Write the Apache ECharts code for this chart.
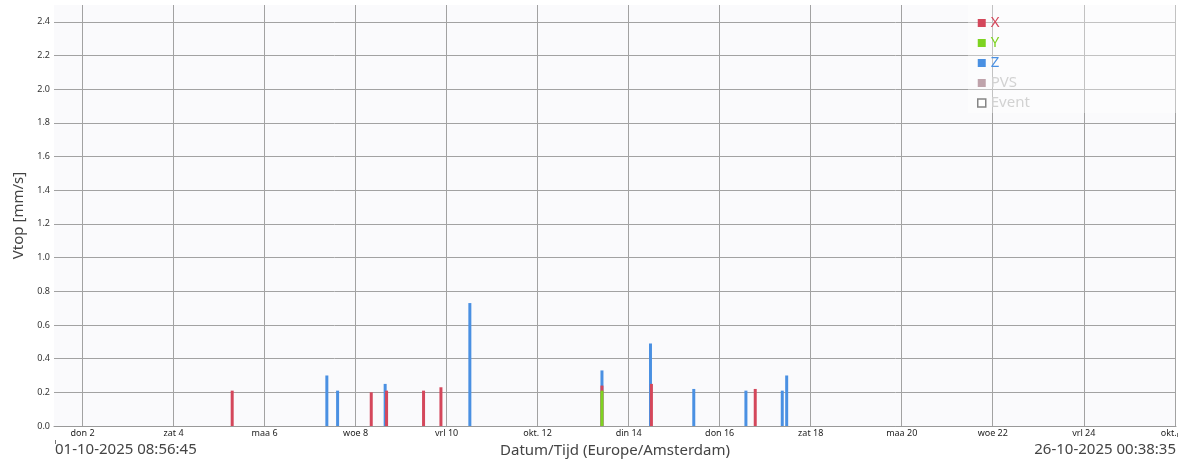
<!DOCTYPE html>
<html>
<head>
<meta charset="utf-8">
<script src="https://cdn.jsdelivr.net/npm/echarts@6/dist/echarts.min.js"></script>
<style>
  html, body { margin: 0; padding: 0; background: #fff; }
  #chart { width: 1186px; height: 461px; }
</style>
</head>
<body>
<div id="chart"></div>
<script>
// Vibration peaks (Vtop) per axis, October 2025
const rangeStart = '2025-10-01 08:56:45';
const rangeEnd = '2025-10-26 00:38:35';
const startText = '01-10-2025 08:56:45';
const endText = '26-10-2025 00:38:35';
const xAxisTitle = 'Datum/Tijd (Europe/Amsterdam)';
const yAxisTitle = 'Vtop [mm/s]';

const tickDates = ['2025-10-02', '2025-10-04', '2025-10-06', '2025-10-08', '2025-10-10', '2025-10-12',
  '2025-10-14', '2025-10-16', '2025-10-18', '2025-10-20', '2025-10-22', '2025-10-24', '2025-10-26'];
const tickLabels = ['don 2', 'zat 4', 'maa 6', 'woe 8', 'vrl 10', 'okt. 12',
  'din 14', 'don 16', 'zat 18', 'maa 20', 'woe 22', 'vrl 24', 'okt.'];

const xTimes = ['2025-10-05 06:55', '2025-10-08 08:15', '2025-10-08 16:20', '2025-10-09 11:50',
  '2025-10-09 21:00', '2025-10-13 09:55', '2025-10-14 12:00', '2025-10-16 18:45'];
const xValues = [0.21, 0.20, 0.21, 0.21, 0.23, 0.24, 0.25, 0.22];

const yTimes = ['2025-10-13 09:55'];
const yValues = [0.21];

const zTimes = ['2025-10-07 08:50', '2025-10-07 14:30', '2025-10-08 15:35', '2025-10-10 12:15',
  '2025-10-13 09:55', '2025-10-14 11:30', '2025-10-15 10:20', '2025-10-16 13:50',
  '2025-10-17 09:00', '2025-10-17 11:20'];
const zValues = [0.30, 0.21, 0.25, 0.73, 0.33, 0.49, 0.22, 0.21, 0.21, 0.30];

const COLORS = { X: '#d4475b', Y: '#7ed321', Z: '#4a90e2', PVS: '#bfa3ab' };
const FONT = '"Noto Sans", "Open Sans", sans-serif';

// timestamps in ms (UTC) so positions do not depend on the browser's zone
function toMs(s) {
  const [d, hm] = s.split(' ');
  const [Y, M, D] = d.split('-').map(Number);
  const [h, m, sec] = (hm || '00:00:00').split(':').map(Number);
  return Date.UTC(Y, M - 1, D, h || 0, m || 0, sec || 0);
}
function pairs(times, values) {
  return times.map((s, i) => [toMs(s), values[i]]);
}

const tickValues = tickDates.map(toMs);
const labelByValue = {};
tickValues.forEach((v, i) => { labelByValue[v] = tickLabels[i]; });
const lastTick = tickValues[tickValues.length - 1];

const chart = echarts.init(document.getElementById('chart'), null, { renderer: 'canvas' });

const barBase = { type: 'bar', barWidth: 3, barGap: '-100%' };

chart.setOption({
  animation: false,
  textStyle: { fontFamily: FONT },
  grid: {
    left: 54, right: 10, top: 5, bottom: 35,
    containLabel: false, outerBoundsMode: 'none',
    show: true, backgroundColor: '#fafafc', borderWidth: 0
  },
  xAxis: {
    type: 'value',
    min: toMs(rangeStart),
    max: toMs(rangeEnd),
    name: xAxisTitle,
    nameLocation: 'middle',
    nameGap: 17,
    nameTextStyle: { fontSize: 15, color: '#444', fontFamily: FONT },
    axisLine: { show: true, lineStyle: { color: '#999', width: 1 } },
    axisTick: { show: false, customValues: tickValues },
    axisLabel: {
      customValues: tickValues,
      fontSize: 9, color: '#222', margin: 3, fontFamily: FONT,
      hideOverlap: false,
      // the last label sits against the right edge, so nudge it inward
      formatter: (v) => v === lastTick ? '{end|' + labelByValue[v] + '}' : (labelByValue[v] || ''),
      rich: { end: { fontSize: 9, color: '#222', padding: [0, 12, 0, 0] } }
    },
    splitLine: { show: true, lineStyle: { color: '#a2a2a2', width: 1 } }
  },
  yAxis: {
    type: 'value',
    min: 0, max: 2.5, interval: 0.2,
    name: yAxisTitle,
    nameLocation: 'middle',
    nameGap: 28,
    nameTextStyle: { fontSize: 15, color: '#444', fontFamily: FONT },
    axisLine: { show: false },
    axisTick: { show: false },
    axisLabel: {
      fontSize: 9, color: '#333', margin: 4, fontFamily: FONT,
      showMaxLabel: false,
      formatter: (v) => v.toFixed(1)
    },
    splitLine: { show: true, showMaxLine: false, lineStyle: { color: '#a2a2a2', width: 1 } }
  },
  legend: {
    orient: 'vertical',
    left: 972, top: 10,
    itemWidth: 8, itemHeight: 8, itemGap: 4,
    z: 10,
    selectedMode: false,
    textStyle: { fontSize: 15, lineHeight: 16, fontFamily: FONT },
    data: [
      { name: 'X', icon: 'rect', textStyle: { color: COLORS.X } },
      { name: 'Y', icon: 'rect', textStyle: { color: COLORS.Y } },
      { name: 'Z', icon: 'rect', textStyle: { color: COLORS.Z } },
      { name: 'PVS', icon: 'rect', textStyle: { color: '#d2d2d2' } },
      { name: 'Event', icon: 'rect', itemStyle: { color: '#fff', borderColor: '#666', borderWidth: 1.5 },
        textStyle: { color: '#d2d2d2' } }
    ]
  },
  graphic: [
    { type: 'rect', z: 5, shape: { x: 968, y: 4, width: 208, height: 109 },
      style: { fill: 'rgba(255,255,255,0.35)' } },
    { type: 'text', z: 5, x: 55, y: 450,
      style: { text: startText, fill: '#444', font: '15px ' + FONT, verticalAlign: 'middle', align: 'left' } },
    { type: 'text', z: 5, x: 1176, y: 450,
      style: { text: endText, fill: '#444', font: '15px ' + FONT, verticalAlign: 'middle', align: 'right' } },
    { type: 'line', z: 5, shape: { x1: 55.5, y1: 440, x2: 55.5, y2: 444 }, style: { stroke: '#777', lineWidth: 1 } },
    { type: 'line', z: 5, shape: { x1: 1177.5, y1: 433, x2: 1177.5, y2: 437 }, style: { stroke: '#777', lineWidth: 1 } }
  ],
  series: [
    Object.assign({}, barBase, { name: 'Z', itemStyle: { color: COLORS.Z }, data: pairs(zTimes, zValues) }),
    Object.assign({}, barBase, { name: 'X', itemStyle: { color: COLORS.X }, data: pairs(xTimes, xValues) }),
    Object.assign({}, barBase, { name: 'Y', itemStyle: { color: COLORS.Y }, data: pairs(yTimes, yValues) }),
    Object.assign({}, barBase, { name: 'PVS', itemStyle: { color: COLORS.PVS }, data: [] }),
    { name: 'Event', type: 'scatter', itemStyle: { color: '#fff', borderColor: '#666' }, data: [] }
  ]
});
</script>
</body>
</html>
